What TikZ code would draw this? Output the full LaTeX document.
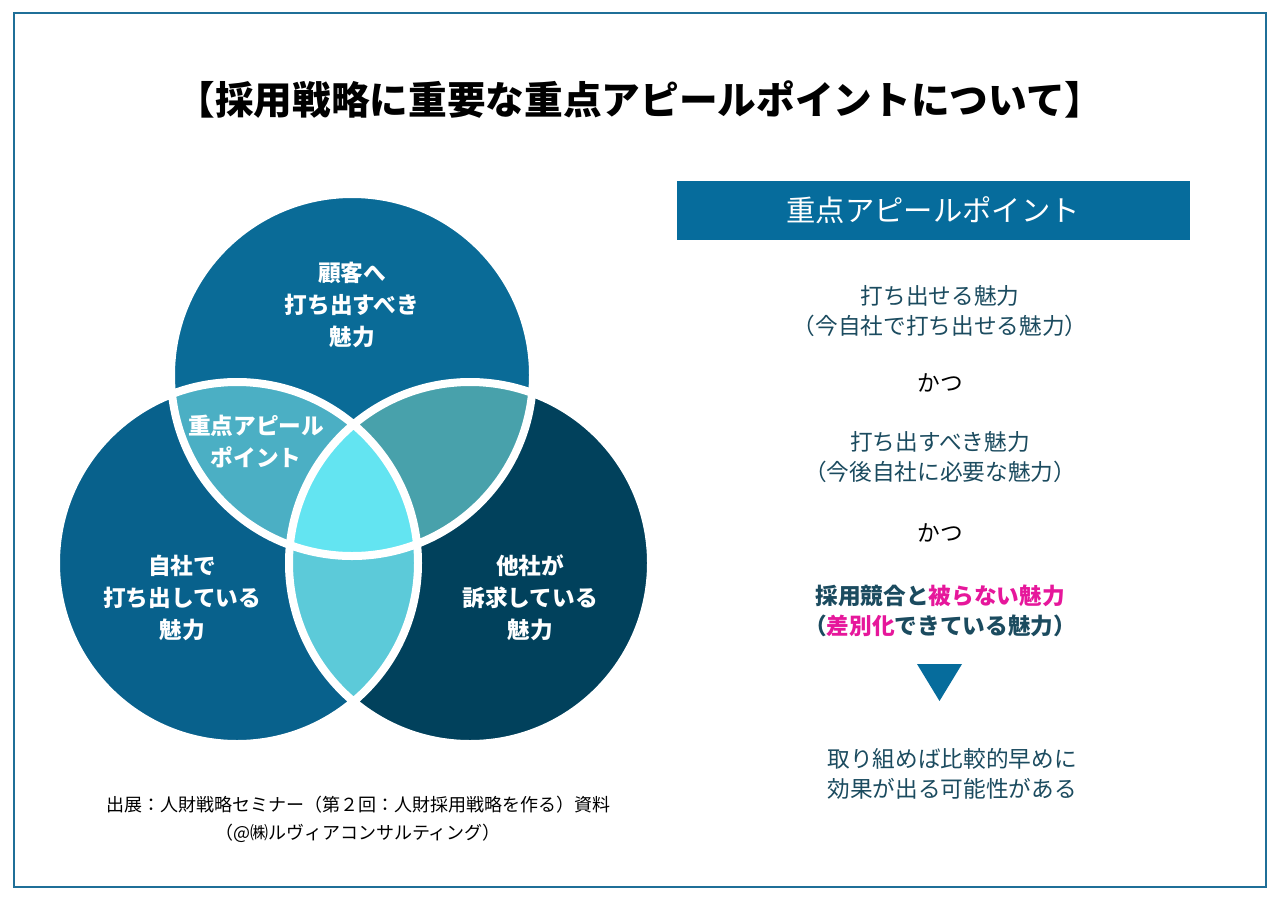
\documentclass[tikz,border=0pt]{standalone}
\usepackage{fontspec}
\setmainfont{Noto Sans CJK JP}
\definecolor{frame}{HTML}{1F6F98}
\definecolor{ctop}{HTML}{0A6B97}
\definecolor{cleft}{HTML}{08618C}
\definecolor{cright}{HTML}{01415C}
\definecolor{itl}{HTML}{4BAFC4}
\definecolor{itr}{HTML}{48A1AB}
\definecolor{ilr}{HTML}{5CCAD9}
\definecolor{ic}{HTML}{63E4F1}
\definecolor{txt}{HTML}{1B4B5F}
\definecolor{pink}{HTML}{E6179B}
\definecolor{banner}{HTML}{066C9C}
\tikzset{
 vlab/.style={text=white,font=\bfseries\fontsize{17}{24}\selectfont,align=center},
 rt/.style={text=txt,font=\fontsize{17}{22}\selectfont,align=center},
 rb/.style={text=txt,font=\bfseries\fontsize{17}{22}\selectfont,align=center},
}
\begin{document}
\begin{tikzpicture}[x=0.75pt,y=-0.75pt]
\useasboundingbox (0,0) rectangle (1280,900);
\fill[white] (0,0) rectangle (1280,900);
\draw[frame,line width=2.2pt] (14,13) rectangle (1266,887);
\node[font=\bfseries\fontsize{29}{34}\selectfont] (title) at (640,100) {【採用戦略に重要な重点アピールポイントについて】};
% Venn
\coordinate (T) at (352,375);
\coordinate (L) at (237,563);
\coordinate (R) at (470,563);
\def\rr{181}
\fill[cleft] (L) circle (\rr);
\fill[cright] (R) circle (\rr);
\fill[ctop] (T) circle (\rr);
\begin{scope}\clip (T) circle (\rr); \fill[itl] (L) circle (\rr); \end{scope}
\begin{scope}\clip (T) circle (\rr); \fill[itr] (R) circle (\rr); \end{scope}
\begin{scope}\clip (L) circle (\rr); \fill[ilr] (R) circle (\rr); \end{scope}
\begin{scope}\clip (L) circle (\rr); \clip (R) circle (\rr); \fill[ic] (T) circle (\rr); \end{scope}
\draw[white,line width=6pt] (T) circle (\rr) (L) circle (\rr) (R) circle (\rr);
\node[vlab] (ta) at (352,305) {顧客へ\\打ち出すべき\\魅力};
\node[vlab] (la) at (182,598) {自社で\\打ち出している\\魅力};
\node[vlab] (ra) at (530,598) {他社が\\訴求している\\魅力};
\node[vlab] (ca) at (256,442) {重点アピール\\ポイント};
\node[font=\fontsize{13.5}{21}\selectfont,align=center] (src) at (358,819) {出展：人財戦略セミナー（第２回：人財採用戦略を作る）資料\\（@㈱ルヴィアコンサルティング）};
% right panel
\fill[banner] (677,181) rectangle (1190,240);
\node[text=white,font=\fontsize{22}{26}\selectfont] (bt) at (933,210) {重点アピールポイント};
\node[rt] (a1) at (940,311) {打ち出せる魅力\\（今自社で打ち出せる魅力）};
\node[font=\fontsize{17}{22}\selectfont] (k1) at (940,383) {かつ};
\node[rt] (a2) at (940,457) {打ち出すべき魅力\\（今後自社に必要な魅力）};
\node[font=\fontsize{17}{22}\selectfont] (k2) at (940,533) {かつ};
\node[rb] (a3) at (940,611) {採用競合と\textcolor{pink}{被らない魅力}\\（\textcolor{pink}{差別化}できている魅力）};
\fill[banner] (917,664) -- (962,664) -- (939.5,701) -- cycle;
\node[rt] (a4) at (952,774) {取り組めば比較的早めに\\効果が出る可能性がある};
\end{tikzpicture}
\end{document}
